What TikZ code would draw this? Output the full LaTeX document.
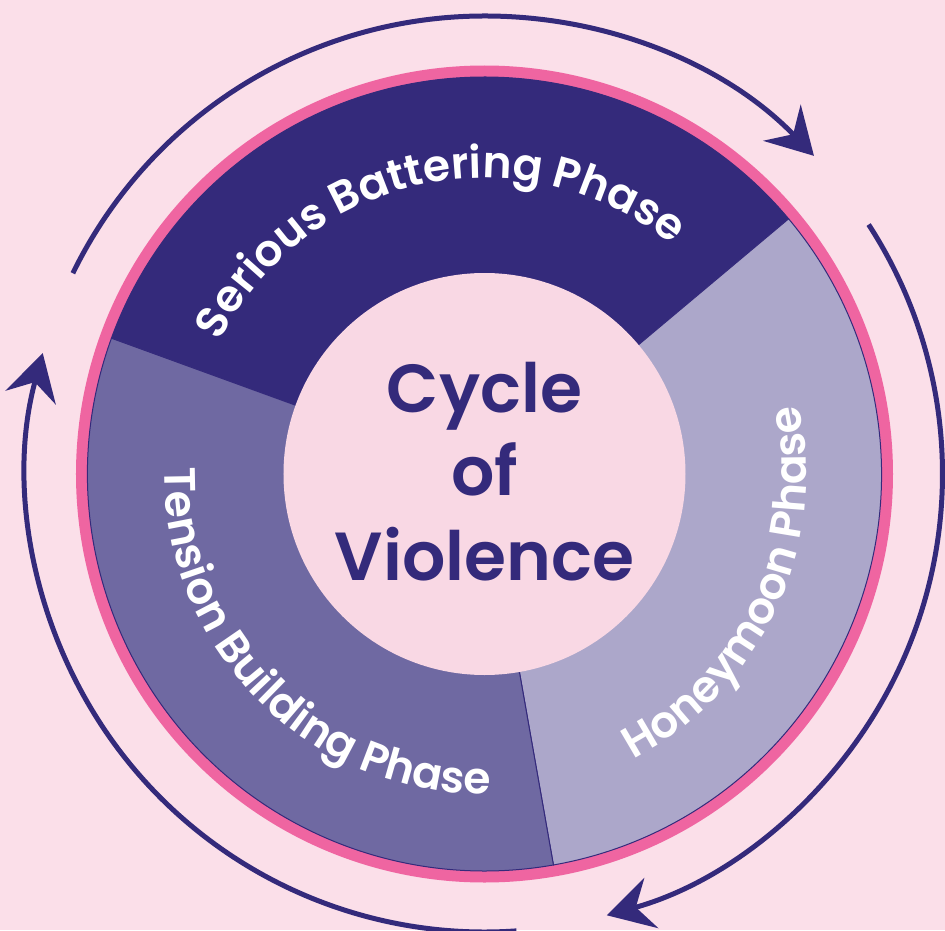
\documentclass[tikz,border=0pt]{standalone}
\usepackage{fontspec}
\setmainfont{Poppins}
\newfontfamily\ringfam{Poppins SemiBold}
\newfontfamily\titlefam{Poppins SemiBold}
\usetikzlibrary{arrows.meta,decorations.text}
\definecolor{bgpink}{HTML}{FBDFE9}
\definecolor{innerpink}{HTML}{F9D8E4}
\definecolor{ringpink}{HTML}{EF65A1}
\definecolor{navy}{HTML}{342A7B}
\definecolor{midpurple}{HTML}{6F69A2}
\definecolor{lightpurple}{HTML}{ACA7CA}
\newcommand\ringfont{\ringfam\fontsize{44}{44}\selectfont}
\newcommand\titlefont{\titlefam\fontsize{68}{84}\selectfont}

\begin{document}
\begin{tikzpicture}[x=1pt,y=1pt,
  sector/.style = {draw=navy,line width=1pt},
  cyclearrow/.style = {draw=navy,line width=5pt,-{Stealth[length=46pt,width=52pt,inset=16pt]}},
  title/.style = {anchor=base,text=navy,font=\titlefont,inner sep=0pt}]
\useasboundingbox (-484.5,-456) rectangle (460.5,474);
\fill[bgpink] (-484.5,-456) rectangle (460.5,474);
\coordinate (c) at (0,0);
% pink ring
\fill[ringpink] (c) circle[radius=408.5];
% three phases
\foreach \a/\b/\col in {40/160/navy, -80/40/lightpurple, 160/280/midpurple}
    \filldraw[sector,fill=\col] (c) -- (\a:397) arc[start angle=\a, end angle=\b, radius=397] -- cycle;
\fill[innerpink] (c) circle[radius=201];
% phase names
\path[decorate,decoration={text along path,text align=center,text color=white,
    text={|\ringfont|Serious Battering Phase}}] (162:296) arc[start angle=162, end angle=42, radius=296];
\path[decorate,decoration={text along path,text align=center,text color=white,
    text={|\ringfont|Honeymoon Phase}}] (-85:322) arc[start angle=-85, end angle=35, radius=322];
\path[decorate,decoration={text along path,text align=center,text color=white,
    text={|\ringfont|Tension Building Phase}}] (165:320) arc[start angle=165, end angle=285, radius=320];
% title
\node[title] (cycle) at (0,62) {Cycle};
\node[title] (of) at (0,-21) {of};
\node[title] (violence) at (0,-106) {Violence};
% arrows round the circle
\foreach \s/\e in {154/44, 33/-74.5, -86/-195.3}
    \draw[cyclearrow] (\s:458) arc[start angle=\s, end angle=\e, radius=458];
\end{tikzpicture}
\end{document}
